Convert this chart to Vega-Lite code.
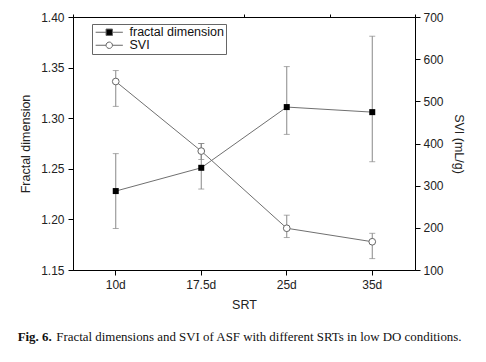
{
  "$schema": "https://vega.github.io/schema/vega-lite/v6.json",
  "width": 342,
  "height": 253,
  "autosize": {"type": "none"},
  "padding": {"left": 73, "top": 17, "right": 71, "bottom": 92},
  "background": "white",
  "config": {
    "view": {"stroke": "#000", "strokeWidth": 1},
    "font": "Liberation Sans",
    "axis": {
      "domainColor": "#000", "tickColor": "#000", "labelColor": "#222", "titleColor": "#222",
      "labelFont": "Liberation Sans", "titleFont": "Liberation Sans",
      "labelFontSize": 12, "titleFontSize": 12.5, "titleFontWeight": "normal",
      "grid": false, "labelOverlap": false
    }
  },
  "datasets": {
    "main": [
      {"SRT": "10d", "fd": 1.228, "fd_lo": 1.191, "fd_hi": 1.265, "svi": 547, "svi_lo": 488, "svi_hi": 573},
      {"SRT": "17.5d", "fd": 1.251, "fd_lo": 1.230, "fd_hi": 1.275, "svi": 382, "svi_lo": 362, "svi_hi": 400},
      {"SRT": "25d", "fd": 1.311, "fd_lo": 1.284, "fd_hi": 1.351, "svi": 199, "svi_lo": 177, "svi_hi": 230},
      {"SRT": "35d", "fd": 1.306, "fd_lo": 1.257, "fd_hi": 1.381, "svi": 167, "svi_lo": 127, "svi_hi": 187}
    ],
    "legend": [{"series": "fractal dimension"}, {"series": "SVI"}]
  },
  "data": {"name": "main"},
  "title": {
    "text": "Fig. 6.",
    "subtitle": "\u200b\u00a0\u00a0\u00a0\u00a0\u00a0\u00a0\u00a0\u00a0\u00a0\u00a0\u00a0\u00a0Fractal dimensions and SVI of ASF with different SRTs in low DO conditions.",
    "orient": "bottom",
    "anchor": "start",
    "frame": "bounds",
    "font": "Liberation Serif",
    "subtitleFont": "Liberation Serif",
    "fontSize": 12.9,
    "subtitleFontSize": 12.9,
    "fontWeight": "bold",
    "subtitleFontWeight": "normal",
    "color": "#111",
    "subtitleColor": "#111",
    "subtitlePadding": -12.9,
    "offset": 20,
    "dx": -2
  },
  "layer": [
    {
      "encoding": {
        "x": {
          "field": "SRT", "type": "nominal",
          "scale": {"type": "band", "domain": ["10d", "17.5d", "25d", "35d"], "paddingInner": 0, "paddingOuter": 0},
          "axis": {"title": "SRT", "labelAngle": 0, "tickSize": 5, "labelPadding": 4, "titlePadding": 8, "domain": true}
        }
      },
      "layer": [
        {
          "mark": {"type": "rule", "color": "#888", "strokeWidth": 1},
          "encoding": {
            "y": {
              "field": "fd_lo", "type": "quantitative",
              "scale": {"domain": [1.15, 1.40], "nice": false, "zero": false},
              "axis": {
                "title": "Fractal dimension",
                "values": [1.15, 1.175, 1.2, 1.225, 1.25, 1.275, 1.3, 1.325, 1.35, 1.375, 1.4],
                "labelExpr": "round(datum.value*1000) % 50 === 0 ? format(datum.value, '.2f') : ''",
                "tickSize": {"condition": {"test": "round(datum.value*1000) % 50 === 0", "value": 5}, "value": 3},
                "labelPadding": 4,
                "titlePadding": 8
              }
            },
            "y2": {"field": "fd_hi"}
          }
        },
        {
          "mark": {"type": "tick", "orient": "horizontal", "size": 6, "thickness": 1, "color": "#888"},
          "encoding": {"y": {"field": "fd_lo", "type": "quantitative"}}
        },
        {
          "mark": {"type": "tick", "orient": "horizontal", "size": 6, "thickness": 1, "color": "#888"},
          "encoding": {"y": {"field": "fd_hi", "type": "quantitative"}}
        },
        {
          "mark": {"type": "line", "color": "#707070", "strokeWidth": 1},
          "encoding": {"y": {"field": "fd", "type": "quantitative"}}
        },
        {
          "mark": {"type": "point", "shape": "square", "filled": true, "color": "#000", "size": 36, "opacity": 1},
          "encoding": {"y": {"field": "fd", "type": "quantitative"}}
        },
        {
          "data": {"name": "legend"},
          "mark": {"type": "point", "filled": true, "opacity": 0},
          "encoding": {
            "shape": {
              "field": "series", "type": "nominal",
              "scale": {"domain": ["fractal dimension", "SVI"], "range": [
                "M-3.4,0H-0.8M0.8,0H3.4M-0.8,-0.8H0.8V0.8H-0.8Z",
                "M-3.4,0H-0.8M0.8,0H3.4M-0.8,0A0.8,0.8 0 1,1 0.8,0A0.8,0.8 0 1,1 -0.8,0Z"
              ]},
              "legend": {
                "title": null, "orient": "none", "legendX": 19, "legendY": 7,
                "symbolSize": 64, "symbolOffset": 9, "labelOffset": 14,
                "labelFont": "Liberation Sans", "labelFontSize": 12.5, "labelColor": "#111",
                "strokeColor": "#666", "fillColor": "white", "padding": 2, "rowPadding": 0,
                "encode": {"symbols": {"update": {"stroke": {"value": "#666"}, "strokeWidth": {"value": 1}, "opacity": {"value": 1}}}}
              }
            },
            "fill": {
              "field": "series", "type": "nominal",
              "scale": {"domain": ["fractal dimension", "SVI"], "range": ["#000000", "#ffffff"]},
              "legend": {
                "title": null, "orient": "none", "legendX": 19, "legendY": 7,
                "symbolSize": 64, "symbolOffset": 9, "labelOffset": 14,
                "labelFont": "Liberation Sans", "labelFontSize": 12.5, "labelColor": "#111",
                "strokeColor": "#666", "fillColor": "white", "padding": 2, "rowPadding": 0,
                "encode": {"symbols": {"update": {"stroke": {"value": "#666"}, "strokeWidth": {"value": 1}, "opacity": {"value": 1}}}}
              }
            }
          }
        }
      ]
    },
    {
      "encoding": {
        "x": {
          "field": "SRT", "type": "nominal",
          "axis": {"title": null, "labels": false, "domain": false, "tickBand": "extent", "tickSize": 3,
                   "tickOpacity": {"condition": {"test": "datum.value === '10d'", "value": 0}, "value": 1}}
        }
      },
      "layer": [
        {
          "mark": {"type": "rule", "color": "#888", "strokeWidth": 1},
          "encoding": {
            "y": {
              "field": "svi_lo", "type": "quantitative",
              "scale": {"domain": [100, 700], "nice": false, "zero": false},
              "axis": {
                "orient": "right",
                "title": "SVI (mL/g)",
                "values": [100, 150, 200, 250, 300, 350, 400, 450, 500, 550, 600, 650, 700],
                "labelExpr": "datum.value % 100 === 0 ? datum.label : ''",
                "tickSize": {"condition": {"test": "datum.value % 100 === 0", "value": 5}, "value": 3},
                "labelPadding": 3,
                "titlePadding": 8
              }
            },
            "y2": {"field": "svi_hi"}
          }
        },
        {
          "mark": {"type": "tick", "orient": "horizontal", "size": 6, "thickness": 1, "color": "#888"},
          "encoding": {"y": {"field": "svi_lo", "type": "quantitative"}}
        },
        {
          "mark": {"type": "tick", "orient": "horizontal", "size": 6, "thickness": 1, "color": "#888"},
          "encoding": {"y": {"field": "svi_hi", "type": "quantitative"}}
        },
        {
          "mark": {"type": "line", "color": "#707070", "strokeWidth": 1},
          "encoding": {"y": {"field": "svi", "type": "quantitative"}}
        },
        {
          "mark": {"type": "point", "shape": "circle", "filled": true, "fill": "#ffffff", "stroke": "#666", "strokeWidth": 1, "size": 45, "opacity": 1},
          "encoding": {"y": {"field": "svi", "type": "quantitative"}}
        }
      ]
    }
  ],
  "resolve": {"scale": {"y": "independent"}, "axis": {"x": "independent"}}
}
